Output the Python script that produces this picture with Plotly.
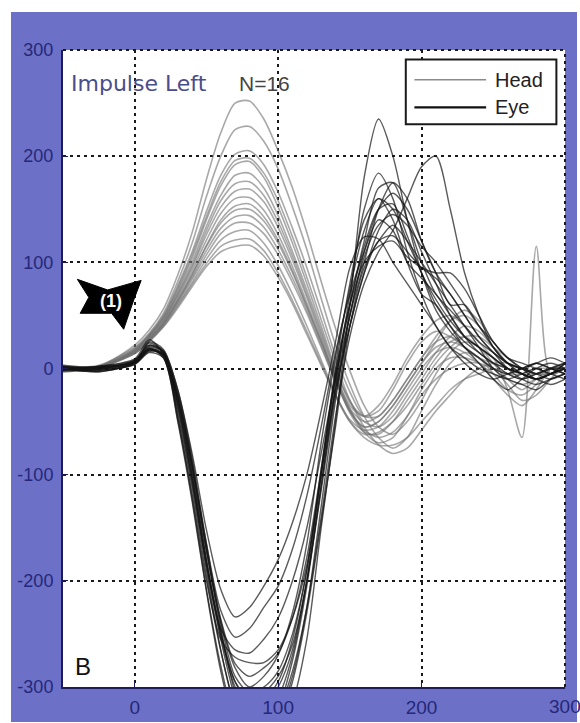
import plotly.graph_objects as go

# time axis (ms)
time_ms = [-50, -25, 0, 10, 20, 30, 40, 50, 60, 70, 80, 90, 100, 110, 120, 130, 140,
           150, 160, 170, 180, 190, 200, 210, 220, 230, 240, 250, 260, 270, 280, 290, 300]

# head velocity traces (deg/s)
head_traces = [
    [0,2,22,36,56,88,128,178,222,250,252,235,205,170,128,82,38, -2,-35,-55,-62,-50,-30,-5,15,25,20,5,-10,-20,-10,0,-5],
    [1,3,20,33,52,82,118,162,200,225,228,214,188,152,112,66,22, -15,-45,-65,-75,-65,-40,-15,5,15,10,-5,-20,-25,-15,0,5],
    [0,1,18,32,50,78,110,148,182,202,205,192,166,132,95,54,12, -22,-45,-45,-30,-10,10,25,30,20,10,0,-5,-10,-5,0,5],
    [-1,2,19,31,49,76,107,143,176,196,198,184,158,124,86,46,6, -30,-55,-72,-80,-75,-58,-40,-25,-10,0,5,5,0,-5,0,0],
    [0,1,17,30,48,74,104,140,172,192,195,180,152,118,80,40,0, -32,-45,-40,-20,5,25,35,30,20,10,5,0,-5,-10,-5,0],
    [1,2,18,31,47,72,100,134,163,182,184,170,144,110,74,36,-2, -30,-50,-55,-45,-25,-5,15,30,40,35,20,5,-5,-10,-5,0],
    [0,1,16,29,45,70,97,130,158,174,176,163,138,106,70,33,-5, -38,-60,-70,-65,-45,-20,0,10,10,5,-10,-25,-35,-20,0,5],
    [0,2,17,30,46,69,95,126,152,167,169,157,133,102,67,30,-8, -40,-55,-50,-35,-15,5,25,45,55,45,25,10,0,-5,-5,0],
    [-1,1,16,28,44,67,92,121,146,160,161,149,126,96,62,27,-10, -42,-60,-62,-50,-30,-10,10,25,30,20,10,-20,-65,115,-5,0],
    [0,1,15,27,42,64,88,116,140,153,155,143,121,92,59,25,-10, -40,-55,-50,-35,-15,5,20,25,20,10,0,-15,-30,-25,-10,5],
    [1,2,16,28,43,65,89,115,137,149,150,139,118,90,58,25,-8, -35,-45,-35,-15,10,30,45,50,40,25,10,0,-5,-5,0,0],
    [0,1,15,27,42,63,86,111,132,143,144,133,112,85,55,22,-12, -40,-58,-65,-60,-45,-25,-10,0,5,5,0,-5,-5,0,0,0],
    [0,2,16,28,42,62,84,107,127,137,137,127,107,81,52,20,-12, -38,-50,-45,-30,-10,10,30,45,50,40,20,5,-5,-10,-5,0],
    [-1,1,14,26,40,60,81,103,121,129,130,118,97,70,40,8,-24, -50,-65,-72,-72,-65,-50,-35,-20,-10,-5,0,-5,-10,-5,0,0],
    [0,1,15,26,40,59,79,99,115,121,122,111,90,64,35,5,-25, -48,-58,-55,-40,-20,0,15,20,15,5,-5,-10,-15,-10,-5,0],
    [1,2,14,25,39,57,77,96,110,115,116,106,86,61,32,3,-26, -50,-62,-60,-50,-35,-15,5,20,30,30,20,10,0,-5,-5,0],
]

# eye velocity traces (deg/s)
eye_traces = [
    [0,-3,5,18,12,-35,-105,-190,-265,-320,-350,-355,-345,-315,-255,-150,-50, 60,180,235,200,140,90,55,35,20,5,-10,-20,-10,0,5,0],
    [2,0,8,22,15,-30,-95,-180,-250,-295,-310,-305,-290,-260,-200,-110,-15, 70,150,184,160,110,70,40,20,5,-5,-10,-5,0,5,0,-5],
    [-2,2,6,25,18,-20,-80,-152,-208,-234,-225,-205,-180,-145,-100,-40,25, 95,124,122,100,80,60,40,20,10,0,-5,-10,-5,0,-5,5],
    [0,-2,4,16,14,-26,-90,-165,-228,-253,-245,-225,-205,-170,-120,-55,15, 70,110,140,130,100,85,70,50,30,15,5,0,-5,-10,-5,0],
    [3,1,7,19,10,-38,-108,-185,-245,-265,-268,-255,-235,-200,-150,-80,-10, 50,100,150,175,160,120,90,70,50,30,15,5,0,-5,0,5],
    [-3,-1,5,17,13,-45,-118,-200,-255,-272,-277,-277,-265,-235,-185,-100,-20, 40,90,120,125,110,95,85,70,50,30,15,0,-10,-15,-10,-5],
    [1,0,6,21,16,-30,-100,-185,-255,-310,-340,-340,-322,-285,-225,-140,-45, 30,80,110,130,160,190,200,150,90,50,20,5,0,-5,-10,-5],
    [-1,2,9,27,14,-24,-88,-170,-245,-305,-335,-330,-310,-270,-200,-100,-5, 60,100,115,120,105,95,90,90,75,50,25,10,0,-10,-5,0],
    [0,-3,5,18,11,-48,-122,-208,-280,-330,-345,-340,-320,-275,-205,-110,-20, 50,110,150,165,150,120,90,60,60,40,20,5,-5,-10,-15,-10],
    [2,1,7,20,15,-28,-92,-172,-240,-290,-305,-300,-285,-250,-190,-100,-10, 60,120,170,175,140,100,70,55,40,25,15,5,0,5,10,5],
    [-2,0,6,19,13,-34,-104,-183,-252,-300,-320,-318,-300,-265,-200,-115,-25, 40,90,130,150,140,110,80,50,30,20,10,0,-5,-10,-5,0],
    [0,2,8,22,17,-20,-84,-165,-238,-282,-300,-290,-270,-230,-165,-70,10, 75,130,160,140,100,70,60,40,25,15,5,-5,-10,-5,0,0],
    [1,-1,4,15,10,-50,-125,-210,-285,-335,-350,-350,-332,-295,-230,-145,-55, 40,95,120,135,120,100,80,60,40,20,0,-10,-15,-20,-10,-5],
    [-1,1,6,18,14,-31,-99,-180,-248,-295,-315,-312,-295,-255,-190,-95,0, 80,140,160,150,120,90,60,40,20,10,0,-5,0,5,0,-5],
    [0,-2,5,17,12,-42,-112,-196,-266,-318,-342,-345,-328,-290,-225,-130,-30, 50,105,135,145,135,115,100,80,60,40,25,10,5,0,-5,-10],
    [2,0,7,24,16,-24,-90,-170,-236,-278,-290,-282,-268,-235,-178,-95,-5, 60,115,150,155,125,90,65,45,30,20,10,0,-5,-10,-5,5],
]

x_ticks = [0, 100, 200, 300]
y_ticks = [-300, -200, -100, 0, 100, 200, 300]
x_range = [-50, 300]
y_range = [-300, 300]

HEAD_COLOR = "rgba(115,115,115,0.62)"
EYE_COLOR = "rgba(20,20,20,0.7)"
FRAME_BLUE = "#6c70c6"
TICK_BLUE = "#25287a"
GRID_DASH = "3px,4px"

fig = go.Figure()

for ys in head_traces:
    fig.add_trace(go.Scatter(x=time_ms, y=ys, mode="lines",
                             line=dict(color=HEAD_COLOR, width=1.6, shape="spline", smoothing=0.8),
                             showlegend=False, hoverinfo="skip"))
for ys in eye_traces:
    fig.add_trace(go.Scatter(x=time_ms, y=ys, mode="lines",
                             line=dict(color=EYE_COLOR, width=1.4, shape="spline", smoothing=0.8),
                             showlegend=False, hoverinfo="skip"))

W, H = 580, 723
L, R, T, B = 63, 15, 50, 36
pw, ph = W - L - R, H - T - B

def px_to_paper_x(px):
    return (px - L) / pw

def px_to_paper_y(py):
    return (H - B - py) / ph

shapes = [
    # blue frame
    dict(type="rect", xref="paper", yref="paper", layer="below",
         x0=px_to_paper_x(11), x1=px_to_paper_x(577), y0=px_to_paper_y(722), y1=px_to_paper_y(12),
         fillcolor=FRAME_BLUE, line=dict(width=0)),
    # white plot area
    dict(type="rect", xref="paper", yref="paper", layer="below",
         x0=0, x1=1, y0=0, y1=1, fillcolor="white", line=dict(width=0)),
    # dotted top / right border (grid at 300)
    dict(type="line", xref="paper", yref="paper", x0=0, x1=1, y0=1, y1=1,
         line=dict(color="#1a1a1a", width=2, dash=GRID_DASH), layer="above"),
    dict(type="line", xref="paper", yref="paper", x0=1, x1=1, y0=0, y1=1,
         line=dict(color="#1a1a1a", width=2, dash=GRID_DASH), layer="above"),
    # legend box
    dict(type="rect", xref="x", yref="y", x0=189, x1=294, y0=230, y1=291,
         fillcolor="white", line=dict(color="#1a1a1a", width=2), layer="above"),
    dict(type="line", xref="x", yref="y", x0=195, x1=245, y0=272, y1=272,
         line=dict(color="#8a8a8a", width=1.6), layer="above"),
    dict(type="line", xref="x", yref="y", x0=195, x1=245, y0=246, y1=246,
         line=dict(color="#111111", width=2.2), layer="above"),
    # arrow marker (1)
    dict(type="path", xref="x", yref="y", layer="above",
         path="M -40 84 L -18.9 74 L 4.5 83 L -0.7 64.5 L -7.7 37 L -16.1 52 L -38 52 L -32 67 Z",
         fillcolor="black", line=dict(color="black", width=1)),
]

tick_font_x = dict(family="Liberation Sans", size=19, color=TICK_BLUE)

annotations = [
    dict(x=-45.5, y=268, xref="x", yref="y", text="Impulse Left", showarrow=False,
         xanchor="left", yanchor="middle", font=dict(family="DejaVu Sans", size=22, color="#4a4d8c")),
    dict(x=71, y=268, xref="x", yref="y", text="N=16", showarrow=False,
         xanchor="left", yanchor="middle", font=dict(family="Liberation Sans", size=21, color="#444444")),
    dict(x=250, y=272, xref="x", yref="y", text="Head", showarrow=False,
         xanchor="left", yanchor="middle", font=dict(family="Liberation Sans", size=20, color="#222222")),
    dict(x=250, y=246, xref="x", yref="y", text="Eye", showarrow=False,
         xanchor="left", yanchor="middle", font=dict(family="Liberation Sans", size=20, color="#222222")),
    dict(x=-43, y=-281, xref="x", yref="y", text="B", showarrow=False,
         xanchor="left", yanchor="middle", font=dict(family="Liberation Sans", size=24, color="#111111")),
    dict(x=-16.5, y=64, xref="x", yref="y", text="<b>(1)</b>", showarrow=False,
         xanchor="center", yanchor="middle", font=dict(family="Liberation Sans", size=18, color="white")),
    # last x tick label sits at the page edge (partly cut in the original)
    dict(x=x_ticks[-1], y=0, xref="x", yref="paper", yshift=-7, text=str(x_ticks[-1]), showarrow=False,
         xanchor="center", yanchor="top", font=tick_font_x),
]

grid = dict(showgrid=True, gridcolor="#1a1a1a", gridwidth=1.5, griddash=GRID_DASH)

fig.update_layout(
    width=W, height=H,
    margin=dict(l=L, r=R, t=T, b=B, autoexpand=False),
    paper_bgcolor="white", plot_bgcolor="white",
    showlegend=False,
    shapes=shapes, annotations=annotations,
    xaxis=dict(range=x_range, tickvals=x_ticks,
               ticktext=[str(v) for v in x_ticks[:-1]] + [""],
               showline=True, linecolor="#1c1c5c", linewidth=2, zeroline=False,
               ticks="inside", ticklen=5, tickcolor="#1c1c5c", automargin=False,
               ticklabelstandoff=2,
               tickfont=tick_font_x, **grid),
    yaxis=dict(range=y_range, tickvals=y_ticks, ticktext=[str(v) for v in y_ticks],
               showline=True, linecolor="#1c1c5c", linewidth=2, zeroline=False,
               ticks="inside", ticklen=5, tickcolor="#1c1c5c", automargin=False,
               ticklabelstandoff=4,
               tickfont=dict(family="Liberation Sans", size=18, color=TICK_BLUE), **grid),
)

fig.write_html("out.html")
